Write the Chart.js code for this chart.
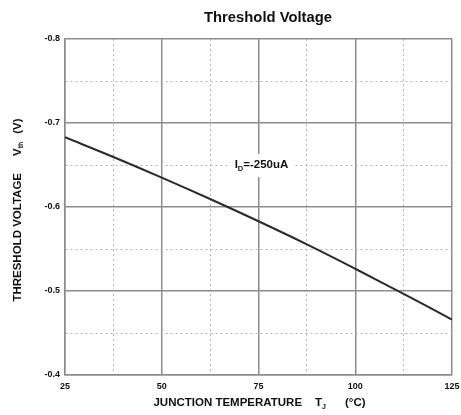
<!DOCTYPE html>
<html><head><meta charset="utf-8">
<script src="https://cdn.jsdelivr.net/npm/chart.js@4.4.1/dist/chart.umd.min.js"></script>
<style>html,body{margin:0;padding:0;background:#fff;}</style>
</head><body>
<canvas id="c" width="461" height="415"></canvas>
<script>
// ---- data ----
const temps = [25, 37.5, 50, 62.5, 75, 87.5, 100, 112.5, 125];
const vth   = [-0.683, -0.6595, -0.635, -0.6095, -0.583, -0.5555, -0.5265, -0.4965, -0.466];
const xTickLabels = [25, 50, 75, 100, 125];
const yTickLabels = [-0.8, -0.7, -0.6, -0.5, -0.4];
const chartTitle = 'Threshold Voltage';
const annotationText = {main: 'I', sub: 'D', rest: '=-250uA', x: 75, y: -0.65};

const FAM = '"Liberation Sans", Arial, Helvetica, sans-serif';
const MAJOR = '#8c8c8c', MINOR = '#b5b5b5';

function isMajorX(v){ return xTickLabels.some(t => Math.abs(t - v) < 1e-6); }
function isMajorY(v){ return yTickLabels.some(t => Math.abs(t - v) < 1e-6); }

function runsWidth(ctx, runs){
  let w = 0;
  for (const r of runs){ w += (r.gap||0); ctx.font = r.font; w += ctx.measureText(r.t).width; }
  return w;
}
function drawRuns(ctx, runs, x, y){
  for (const r of runs){
    x += (r.gap||0);
    ctx.font = r.font;
    ctx.fillText(r.t, x, y + (r.dy||0));
    x += ctx.measureText(r.t).width;
  }
}

const textPlugin = {
  id: 'texts',
  afterDraw(chart){
    const ctx = chart.ctx, ca = chart.chartArea;
    const xs = chart.scales.x, ys = chart.scales.y;
    ctx.save();
    ctx.fillStyle = '#111';
    // chart title
    ctx.font = 'bold 14.8px ' + FAM;
    ctx.textAlign = 'center';
    ctx.textBaseline = 'alphabetic';
    ctx.fillText(chartTitle, 268, 21.5);
    ctx.textAlign = 'left';
    ctx.textBaseline = 'middle';

    const main = 'bold 11.5px ' + FAM, sub = 'bold 7px ' + FAM;
    // x axis title
    const xr = [
      {t:'JUNCTION TEMPERATURE', font: main},
      {t:'T', font: main, gap: 13},
      {t:'J', font: sub, dy: 4},
      {t:'(°C)', font: main, gap: 19}
    ];
    const xw = runsWidth(ctx, xr);
    drawRuns(ctx, xr, 259.5 - xw / 2, 403);

    // y axis title (rotated)
    const yr = [
      {t:'THRESHOLD VOLTAGE', font: main},
      {t:'V', font: main, gap: 17},
      {t:'th', font: sub, dy: 4},
      {t:'(V)', font: main, gap: 8}
    ];
    const yw = runsWidth(ctx, yr);
    ctx.save();
    ctx.translate(17.5, 210 + yw / 2);
    ctx.rotate(-Math.PI / 2);
    drawRuns(ctx, yr, 0, 0);
    ctx.restore();

    // annotation I_D = -250uA
    const ar = [
      {t: annotationText.main, font: main},
      {t: annotationText.sub, font: 'bold 7.5px ' + FAM, dy: 3.5},
      {t: annotationText.rest, font: main}
    ];
    const aw = runsWidth(ctx, ar);
    const ax = xs.getPixelForValue(annotationText.x) + 3;
    const ay = ys.getPixelForValue(annotationText.y);
    ctx.fillStyle = '#fff';
    ctx.fillRect(ax - 33.5, ay - 11, 67, 23);
    ctx.fillStyle = '#111';
    drawRuns(ctx, ar, ax - aw / 2, ay);
    ctx.restore();
  }
};

new Chart(document.getElementById('c'), {
  type: 'line',
  data: {
    datasets: [{
      data: temps.map((t, i) => ({x: t, y: vth[i]})),
      borderColor: '#2a2a2a',
      borderWidth: 2,
      pointRadius: 0,
      fill: false,
      tension: 0.4
    }]
  },
  options: {
    responsive: false,
    animation: false,
    devicePixelRatio: 1,
    layout: {padding: {top: 39, right: 9, left: 0, bottom: 0}},
    plugins: {legend: {display: false}, tooltip: {enabled: false}, title: {display: false}},
    scales: {
      x: {
        type: 'linear', min: 25, max: 125,
        afterFit(s){ s.height = 40; s.paddingLeft = 0; s.paddingRight = 0; },
        ticks: {
          stepSize: 12.5, autoSkip: false, maxRotation: 0, padding: 6,
          color: '#111', font: {family: FAM, size: 9, weight: 'bold'},
          callback: v => isMajorX(v) ? String(v) : ''
        },
        grid: {
          drawTicks: false,
          color: c => isMajorX(c.tick ? c.tick.value : 0) ? MAJOR : MINOR,
          lineWidth: c => isMajorX(c.tick ? c.tick.value : 0) ? 1.5 : 1
        },
        border: {
          display: true, color: MAJOR, width: 1.5,
          dash: c => (c.tick && !isMajorX(c.tick.value)) ? [2, 3] : []
        }
      },
      y: {
        type: 'linear', min: -0.8, max: -0.4, reverse: true,
        afterFit(s){ s.width = 65; s.paddingTop = 0; s.paddingBottom = 0; },
        ticks: {
          stepSize: 0.05, autoSkip: false, padding: 5,
          color: '#111', font: {family: FAM, size: 9, weight: 'bold'},
          callback: v => isMajorY(v) ? Number(v).toFixed(1) : ''
        },
        grid: {
          drawTicks: false,
          color: c => isMajorY(c.tick ? c.tick.value : 0) ? MAJOR : MINOR,
          lineWidth: c => isMajorY(c.tick ? c.tick.value : 0) ? 1.5 : 1
        },
        border: {
          display: true, color: MAJOR, width: 1.5,
          dash: c => (c.tick && !isMajorY(c.tick.value)) ? [2, 3] : []
        }
      }
    }
  },
  plugins: [textPlugin]
});
</script>
</body></html>
